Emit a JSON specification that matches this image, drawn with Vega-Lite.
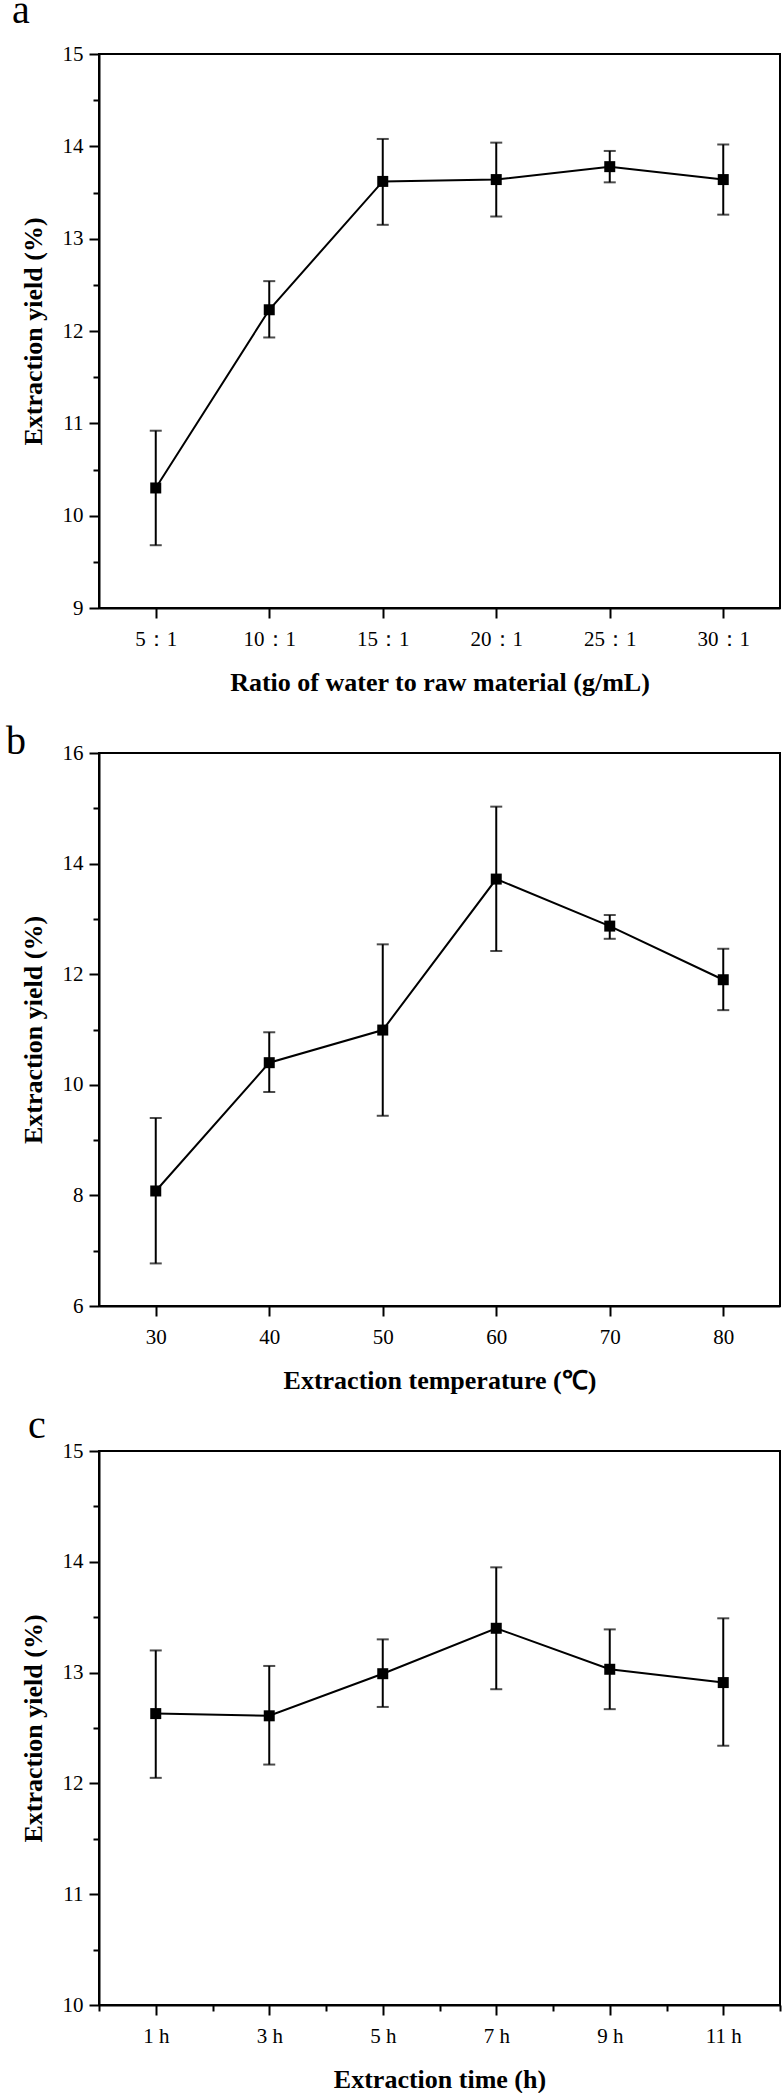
{
  "$schema": "https://vega.github.io/schema/vega-lite/v6.json",
  "background": "white",
  "padding": {"left": 5, "top": -10, "right": 4, "bottom": 5},
  "spacing": 145,
  "bounds": "flush",
  "config": {
    "view": {"stroke": "black", "strokeWidth": 2},
    "axis": {"grid": false, "domainColor": "black", "domainWidth": 2, "tickColor": "black", "tickWidth": 2, "tickSize": 10, "labelFont": "Liberation Serif", "labelFontSize": 21, "labelColor": "black", "labelPadding": 6, "labelOverlap": false, "labelFlush": false, "titleFont": "Liberation Serif", "titleFontSize": 26, "titleFontWeight": "bold", "titleColor": "black"},
    "axisY": {"titlePadding": 16},
    "axisX": {"titlePadding": 20, "labelPadding": 10},
    "title": {"font": "Liberation Serif", "fontSize": 40, "fontWeight": "normal", "anchor": "start", "frame": "group", "baseline": "alphabetic", "color": "black"}
  },
  "vconcat": [
    {
      "width": 681, "height": 554,
      "title": {"text": "a", "dx": -87, "offset": 12},
      "data": {"values": [
        {"ratio": 5, "yield": 10.30, "lo": 9.68, "hi": 10.92},
        {"ratio": 10, "yield": 12.23, "lo": 11.93, "hi": 12.54},
        {"ratio": 15, "yield": 13.62, "lo": 13.15, "hi": 14.08},
        {"ratio": 20, "yield": 13.64, "lo": 13.24, "hi": 14.04},
        {"ratio": 25, "yield": 13.78, "lo": 13.61, "hi": 13.95},
        {"ratio": 30, "yield": 13.64, "lo": 13.26, "hi": 14.02}
      ]},
      "encoding": {
        "x": {"field": "ratio", "type": "quantitative", "scale": {"domain": [2.5, 32.5], "nice": false, "zero": false},
          "axis": {"values": [5, 10, 15, 20, 25, 30], "labelExpr": "datum.value + '：1'", "title": "Ratio of water to raw material (g/mL)"}}
      },
      "layer": [
        {"mark": {"type": "errorbar", "ticks": {"size": 12, "thickness": 2, "color": "black"}, "rule": {"strokeWidth": 2, "color": "black"}},
         "encoding": {"y": {"field": "lo", "type": "quantitative", "scale": {"domain": [9, 15], "nice": false, "zero": false},
            "axis": {"title": "Extraction yield (%)", "values": [9, 9.5, 10, 10.5, 11, 11.5, 12, 12.5, 13, 13.5, 14, 14.5, 15], "labelExpr": "datum.value % 1 == 0 ? '' + datum.value : ''", "tickSize": {"condition": {"test": "datum.value % 1 == 0", "value": 10}, "value": 6}}},
           "y2": {"field": "hi"}}},
        {"mark": {"type": "line", "color": "black", "strokeWidth": 2},
         "encoding": {"y": {"field": "yield", "type": "quantitative", "scale": {"domain": [9, 15], "nice": false, "zero": false}, "axis": {"title": "Extraction yield (%)", "values": [9, 9.5, 10, 10.5, 11, 11.5, 12, 12.5, 13, 13.5, 14, 14.5, 15], "labelExpr": "datum.value % 1 == 0 ? '' + datum.value : ''", "tickSize": {"condition": {"test": "datum.value % 1 == 0", "value": 10}, "value": 6}}}}},
        {"mark": {"type": "square", "color": "black", "size": 121, "opacity": 1, "filled": true},
         "encoding": {"y": {"field": "yield", "type": "quantitative", "scale": {"domain": [9, 15], "nice": false, "zero": false}, "axis": {"title": "Extraction yield (%)", "values": [9, 9.5, 10, 10.5, 11, 11.5, 12, 12.5, 13, 13.5, 14, 14.5, 15], "labelExpr": "datum.value % 1 == 0 ? '' + datum.value : ''", "tickSize": {"condition": {"test": "datum.value % 1 == 0", "value": 10}, "value": 6}}}}}
      ]
    },
    {
      "width": 681, "height": 553,
      "title": {"text": "b", "dx": -93, "offset": -20},
      "data": {"values": [
        {"temp": 30, "yield": 8.08, "lo": 6.77, "hi": 9.40},
        {"temp": 40, "yield": 10.40, "lo": 9.87, "hi": 10.95},
        {"temp": 50, "yield": 10.99, "lo": 9.44, "hi": 12.54},
        {"temp": 60, "yield": 13.72, "lo": 12.42, "hi": 15.03},
        {"temp": 70, "yield": 12.87, "lo": 12.64, "hi": 13.07},
        {"temp": 80, "yield": 11.90, "lo": 11.35, "hi": 12.46}
      ]},
      "encoding": {
        "x": {"field": "temp", "type": "quantitative", "scale": {"domain": [25, 85], "nice": false, "zero": false},
          "axis": {"values": [30, 40, 50, 60, 70, 80], "title": "Extraction temperature (℃)"}}
      },
      "layer": [
        {"mark": {"type": "errorbar", "ticks": {"size": 12, "thickness": 2, "color": "black"}, "rule": {"strokeWidth": 2, "color": "black"}},
         "encoding": {"y": {"field": "lo", "type": "quantitative", "scale": {"domain": [6, 16], "nice": false, "zero": false},
            "axis": {"title": "Extraction yield (%)", "values": [6, 7, 8, 9, 10, 11, 12, 13, 14, 15, 16], "labelExpr": "datum.value % 2 == 0 ? '' + datum.value : ''", "tickSize": {"condition": {"test": "datum.value % 2 == 0", "value": 10}, "value": 6}}},
           "y2": {"field": "hi"}}},
        {"mark": {"type": "line", "color": "black", "strokeWidth": 2},
         "encoding": {"y": {"field": "yield", "type": "quantitative", "scale": {"domain": [6, 16], "nice": false, "zero": false}, "axis": {"title": "Extraction yield (%)", "values": [6, 7, 8, 9, 10, 11, 12, 13, 14, 15, 16], "labelExpr": "datum.value % 2 == 0 ? '' + datum.value : ''", "tickSize": {"condition": {"test": "datum.value % 2 == 0", "value": 10}, "value": 6}}}}},
        {"mark": {"type": "square", "color": "black", "size": 121, "opacity": 1, "filled": true},
         "encoding": {"y": {"field": "yield", "type": "quantitative", "scale": {"domain": [6, 16], "nice": false, "zero": false}, "axis": {"title": "Extraction yield (%)", "values": [6, 7, 8, 9, 10, 11, 12, 13, 14, 15, 16], "labelExpr": "datum.value % 2 == 0 ? '' + datum.value : ''", "tickSize": {"condition": {"test": "datum.value % 2 == 0", "value": 10}, "value": 6}}}}}
      ]
    },
    {
      "width": 681, "height": 554,
      "title": {"text": "c", "dx": -71, "offset": -6},
      "data": {"values": [
        {"time": 1, "yield": 12.63, "lo": 12.05, "hi": 13.20},
        {"time": 3, "yield": 12.61, "lo": 12.17, "hi": 13.06},
        {"time": 5, "yield": 12.99, "lo": 12.69, "hi": 13.30},
        {"time": 7, "yield": 13.40, "lo": 12.85, "hi": 13.95},
        {"time": 9, "yield": 13.03, "lo": 12.67, "hi": 13.39},
        {"time": 11, "yield": 12.91, "lo": 12.34, "hi": 13.49}
      ]},
      "encoding": {
        "x": {"field": "time", "type": "quantitative", "scale": {"domain": [0, 12], "nice": false, "zero": false},
          "axis": {"values": [0, 1, 2, 3, 4, 5, 6, 7, 8, 9, 10, 11, 12], "labelExpr": "datum.value % 2 == 1 ? datum.value + ' h' : ''", "tickSize": {"condition": {"test": "datum.value % 2 == 1", "value": 10}, "value": 6}, "title": "Extraction time (h)"}}
      },
      "layer": [
        {"mark": {"type": "errorbar", "ticks": {"size": 12, "thickness": 2, "color": "black"}, "rule": {"strokeWidth": 2, "color": "black"}},
         "encoding": {"y": {"field": "lo", "type": "quantitative", "scale": {"domain": [10, 15], "nice": false, "zero": false},
            "axis": {"title": "Extraction yield (%)", "values": [10, 10.5, 11, 11.5, 12, 12.5, 13, 13.5, 14, 14.5, 15], "labelExpr": "datum.value % 1 == 0 ? '' + datum.value : ''", "tickSize": {"condition": {"test": "datum.value % 1 == 0", "value": 10}, "value": 6}}},
           "y2": {"field": "hi"}}},
        {"mark": {"type": "line", "color": "black", "strokeWidth": 2},
         "encoding": {"y": {"field": "yield", "type": "quantitative", "scale": {"domain": [10, 15], "nice": false, "zero": false}, "axis": {"title": "Extraction yield (%)", "values": [10, 10.5, 11, 11.5, 12, 12.5, 13, 13.5, 14, 14.5, 15], "labelExpr": "datum.value % 1 == 0 ? '' + datum.value : ''", "tickSize": {"condition": {"test": "datum.value % 1 == 0", "value": 10}, "value": 6}}}}},
        {"mark": {"type": "square", "color": "black", "size": 121, "opacity": 1, "filled": true},
         "encoding": {"y": {"field": "yield", "type": "quantitative", "scale": {"domain": [10, 15], "nice": false, "zero": false}, "axis": {"title": "Extraction yield (%)", "values": [10, 10.5, 11, 11.5, 12, 12.5, 13, 13.5, 14, 14.5, 15], "labelExpr": "datum.value % 1 == 0 ? '' + datum.value : ''", "tickSize": {"condition": {"test": "datum.value % 1 == 0", "value": 10}, "value": 6}}}}}
      ]
    }
  ]
}
